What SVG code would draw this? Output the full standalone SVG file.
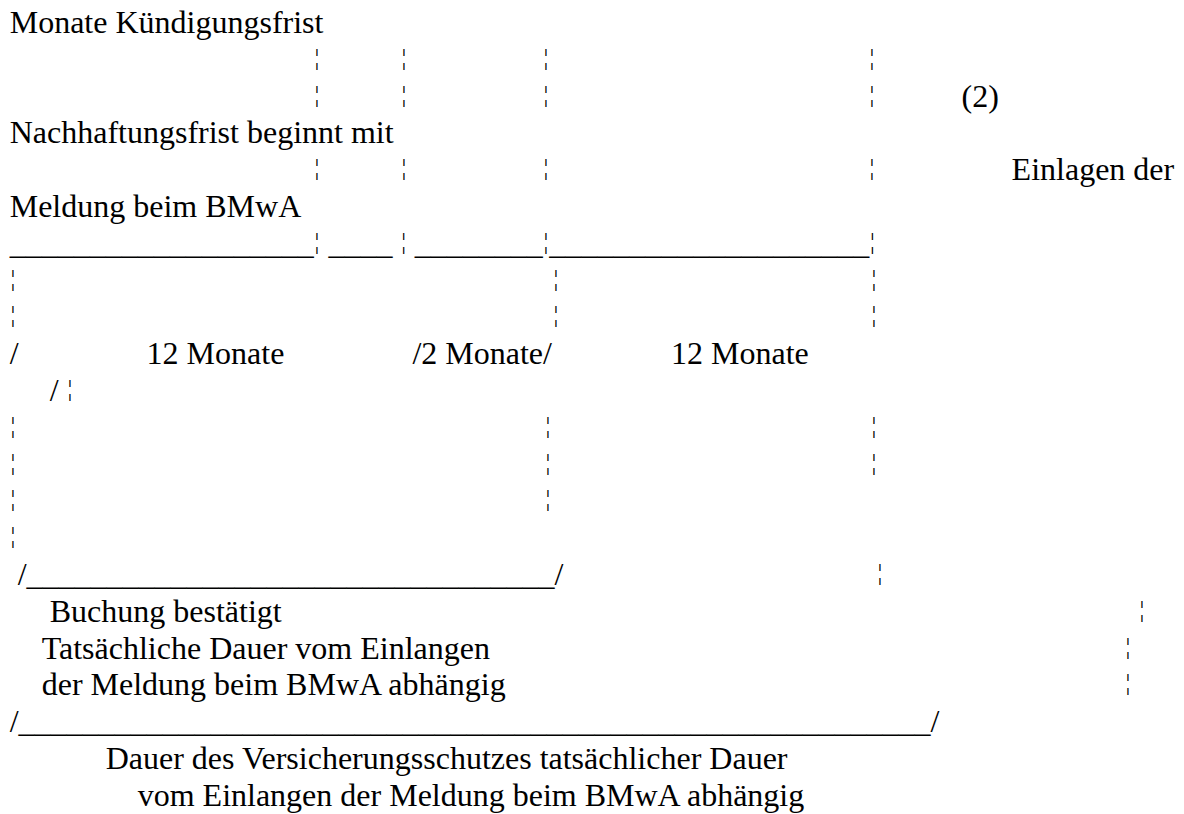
<svg xmlns="http://www.w3.org/2000/svg" width="1184" height="814" viewBox="0 0 1184 814">
<style>
text{font-family:"Liberation Serif","Times New Roman",serif;font-size:32px;fill:#000}
.b{text-anchor:middle;font-size:24px}
</style>
<rect width="1184" height="814" fill="#fff"/>
<g id="line1"><text x="9.7" y="33">Monate Kündigungsfrist</text></g>
<g id="line2"><text class="b" x="317" y="64.8">¦</text><text class="b" x="404" y="64.8">¦</text><text class="b" x="546" y="64.8">¦</text><text class="b" x="872" y="64.8">¦</text></g>
<g id="line3"><text class="b" x="317" y="101.6">¦</text><text class="b" x="404" y="101.6">¦</text><text class="b" x="546" y="101.6">¦</text><text class="b" x="872" y="101.6">¦</text><text x="961.5" y="106.6">(2)</text></g>
<g id="line4"><text x="9.7" y="143.4">Nachhaftungsfrist beginnt mit</text></g>
<g id="line5"><text class="b" x="317" y="175.2">¦</text><text class="b" x="404" y="175.2">¦</text><text class="b" x="546" y="175.2">¦</text><text class="b" x="872" y="175.2">¦</text><text x="1011.6" y="180.2">Einlagen der</text></g>
<g id="line6"><text x="9.7" y="217">Meldung beim BMwA</text></g>
<g id="line7"><text x="9.7" y="253.8">___________________</text><text class="b" x="317" y="248.8">¦</text><text x="328.4" y="253.8">____</text><text class="b" x="403.6" y="248.8">¦</text><text x="414.8" y="253.8">________</text><text class="b" x="546" y="248.8">¦</text><text x="549.2" y="253.8">____________________</text><text class="b" x="872.4" y="248.8">¦</text></g>
<g id="line8"><text class="b" x="13" y="285.6">¦</text><text class="b" x="556" y="285.6">¦</text><text class="b" x="874" y="285.6">¦</text></g>
<g id="line9"><text class="b" x="13" y="322.4">¦</text><text class="b" x="556" y="322.4">¦</text><text class="b" x="874" y="322.4">¦</text></g>
<g id="line10"><text x="9.7" y="364.2">/</text><text x="146.6" y="364.2">12 Monate</text><text x="412.4" y="364.2">/2 Monate/</text><text x="671" y="364.2">12 Monate</text></g>
<g id="line11"><text x="49.7" y="401">/</text><text class="b" x="69.8" y="396">¦</text></g>
<g id="line12"><text class="b" x="13" y="432.8">¦</text><text class="b" x="548" y="432.8">¦</text><text class="b" x="874" y="432.8">¦</text></g>
<g id="line13"><text class="b" x="13" y="469.6">¦</text><text class="b" x="548" y="469.6">¦</text><text class="b" x="874" y="469.6">¦</text></g>
<g id="line14"><text class="b" x="13" y="506.4">¦</text><text class="b" x="548" y="506.4">¦</text></g>
<g id="line15"><text class="b" x="13" y="543.2">¦</text></g>
<g id="line16"><text x="17.7" y="585">/_________________________________/</text><text class="b" x="880" y="580">¦</text></g>
<g id="line17"><text x="49.7" y="621.8">Buchung bestätigt</text><text class="b" x="1142" y="616.8">¦</text></g>
<g id="line18"><text x="41.7" y="658.6">Tatsächliche Dauer vom Einlangen</text><text class="b" x="1128" y="653.6">¦</text></g>
<g id="line19"><text x="41.7" y="695.4">der Meldung beim BMwA abhängig</text><text class="b" x="1128" y="690.4">¦</text></g>
<g id="line20"><text x="9.7" y="732.2">/_________________________________________________________/</text></g>
<g id="line21"><text x="105.7" y="769">Dauer des Versicherungsschutzes tatsächlicher Dauer</text></g>
<g id="line22"><text x="137.7" y="805.8">vom Einlangen der Meldung beim BMwA abhängig</text></g>
</svg>
